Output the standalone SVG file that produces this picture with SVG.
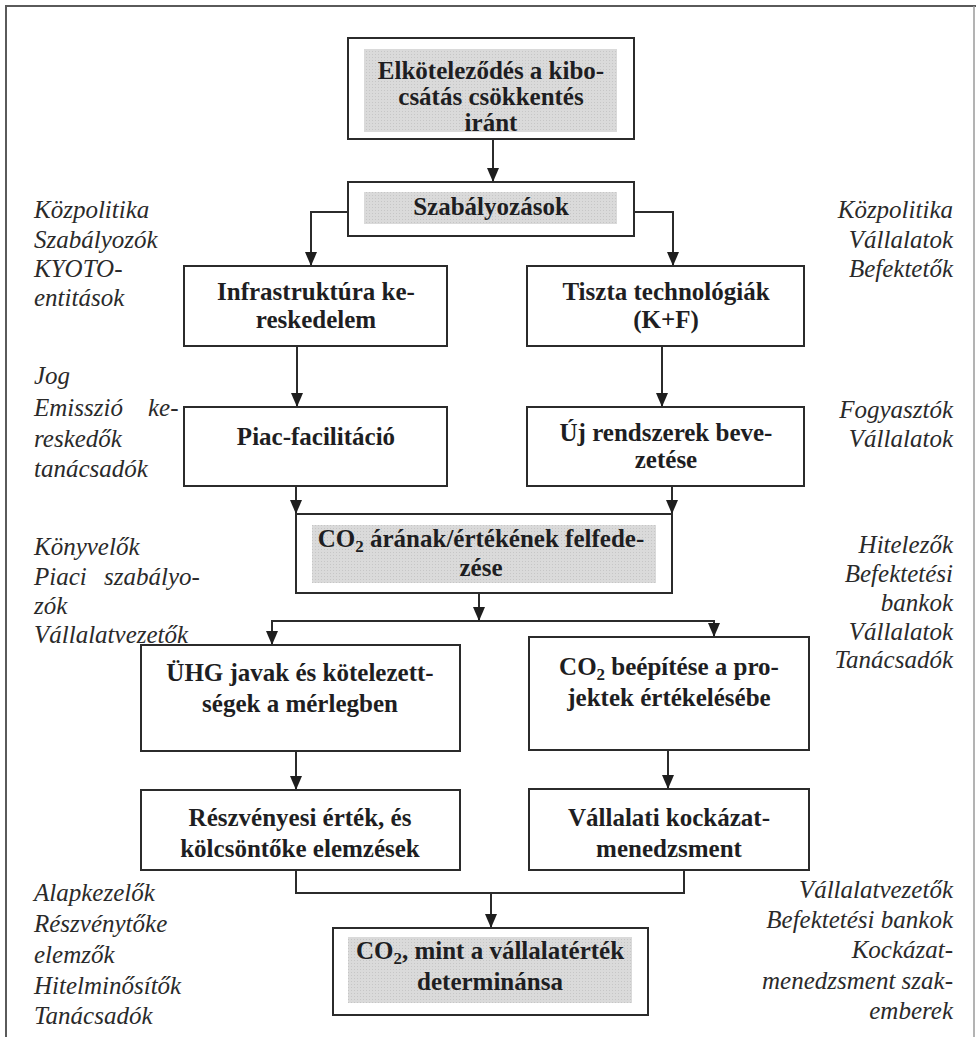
<svg xmlns="http://www.w3.org/2000/svg" width="976" height="1037" viewBox="0 0 976 1037">
<defs>
<style>
.box{fill:#fff;stroke:#2b2b2b;stroke-width:2}
.shade{fill:url(#dots);stroke:none}
.bt{font-family:"Liberation Serif","Times New Roman",serif;font-weight:bold;font-size:25px;fill:#1e1e22;text-anchor:middle}
.lb{font-family:"Liberation Serif","Times New Roman",serif;font-style:italic;font-size:25px;fill:#2a2a2a}
.rt{text-anchor:end}
.con{fill:none;stroke:#2b2b2b;stroke-width:2}
.arr{marker-end:url(#ah)}
</style>
<pattern id="dots" width="3" height="3" patternUnits="userSpaceOnUse">
<rect width="3" height="3" fill="#dadada"/>
<rect width="1" height="1" fill="#c6c6c6"/>
</pattern>
<marker id="ah" viewBox="0 0 14 12" refX="14" refY="6" markerWidth="14" markerHeight="12" markerUnits="userSpaceOnUse" orient="auto">
<path d="M0,0 L14,6 L0,12 z" fill="#1e1e1e"/>
</marker>
</defs>
<rect width="976" height="1037" fill="#fff"/>
<path d="M6,1037 L6,6 L976,6" fill="none" stroke="#5a5a5a" stroke-width="2"/>
<path d="M974,6 L974,1037" fill="none" stroke="#9a9a9a" stroke-width="1.5"/>

<g id="connectors">
<line class="con arr" x1="493" y1="139" x2="493" y2="182"/>
<path class="con arr" d="M348,212 L311,212 L311,266"/>
<path class="con arr" d="M634,212 L673,212 L673,266"/>
<line class="con arr" x1="297" y1="346" x2="297" y2="407"/>
<line class="con arr" x1="662" y1="346" x2="662" y2="407"/>
<line class="con arr" x1="296" y1="486" x2="296" y2="514"/>
<line class="con arr" x1="672" y1="486" x2="672" y2="514"/>
<line class="con arr" x1="479" y1="593" x2="479" y2="621"/>
<path class="con arr" d="M479,621 L272,621 L272,645"/>
<path class="con arr" d="M479,621 L714,621 L714,637"/>
<line class="con arr" x1="296" y1="751" x2="296" y2="790"/>
<line class="con arr" x1="668" y1="750" x2="668" y2="789"/>
<path class="con" d="M296,870 L296,893 L684,893 L684,870"/>
<line class="con arr" x1="491" y1="893" x2="491" y2="928"/>
</g>

<g id="n1">
<rect class="box" x="348" y="38" width="286" height="101"/>
<rect class="shade" x="364" y="49" width="253" height="83"/>
<text class="bt" x="491" y="79">Elkötelező­dés a kibo-</text>
<text class="bt" x="491" y="105">csátás csökkentés</text>
<text class="bt" x="491" y="131">iránt</text>
</g>

<g id="n2">
<rect class="box" x="348" y="182" width="286" height="54"/>
<rect class="shade" x="364" y="192" width="253" height="32"/>
<text class="bt" x="491" y="215">Szabályozások</text>
</g>

<g id="n3">
<rect class="box" x="184" y="266" width="263" height="80"/>
<text class="bt" x="316" y="300">Infrastruktúra ke-</text>
<text class="bt" x="316" y="328">reskedelem</text>
</g>

<g id="n4">
<rect class="box" x="527" y="266" width="277" height="80"/>
<text class="bt" x="666" y="300">Tiszta technológiák</text>
<text class="bt" x="666" y="328">(K+F)</text>
</g>

<g id="n5">
<rect class="box" x="184" y="407" width="263" height="79"/>
<text class="bt" x="316" y="445">Piac-facilitáció</text>
</g>

<g id="n6">
<rect class="box" x="527" y="407" width="277" height="79"/>
<text class="bt" x="666" y="441">Új rendszerek beve-</text>
<text class="bt" x="666" y="468">zetése</text>
</g>

<g id="n7">
<rect class="box" x="296" y="514" width="376" height="79"/>
<rect class="shade" x="312" y="525" width="344" height="58"/>
<text class="bt" x="481" y="547">CO<tspan font-size="17" dy="5">2</tspan><tspan dy="-5"> árának/értékének felfede-</tspan></text>
<text class="bt" x="481" y="576">zése</text>
</g>

<g id="n8">
<rect class="box" x="141" y="645" width="319" height="106"/>
<text class="bt" x="300" y="681">ÜHG javak és kötelezett-</text>
<text class="bt" x="300" y="712">ségek a mérlegben</text>
</g>

<g id="n9">
<rect class="box" x="529" y="637" width="280" height="113"/>
<text class="bt" x="669" y="675">CO<tspan font-size="17" dy="5">2</tspan><tspan dy="-5"> beépítése a pro-</tspan></text>
<text class="bt" x="669" y="706">jektek értékelésébe</text>
</g>

<g id="n10">
<rect class="box" x="141" y="790" width="319" height="80"/>
<text class="bt" x="300" y="826">Részvényesi érték, és</text>
<text class="bt" x="300" y="857">kölcsöntőke elemzések</text>
</g>

<g id="n11">
<rect class="box" x="529" y="789" width="280" height="81"/>
<text class="bt" x="669" y="826">Vállalati kockázat-</text>
<text class="bt" x="669" y="857">menedzsment</text>
</g>

<g id="n12">
<rect class="box" x="333" y="928" width="315" height="87"/>
<rect class="shade" x="348" y="937" width="284" height="66"/>
<text class="bt" x="490" y="959">CO<tspan font-size="17" dy="5">2</tspan><tspan dy="-5">, mint a vállalatérték</tspan></text>
<text class="bt" x="490" y="990">determinánsa</text>
</g>

<g id="labels-left">
<text class="lb" x="34" y="218">Közpolitika</text>
<text class="lb" x="34" y="248">Szabályozók</text>
<text class="lb" x="34" y="277">KYOTO-</text>
<text class="lb" x="34" y="306">entitások</text>
<text class="lb" x="34" y="384">Jog</text>
<text class="lb" y="416"><tspan x="34">Emisszió</tspan><tspan x="148">ke-</tspan></text>
<text class="lb" x="34" y="447">reskedők</text>
<text class="lb" x="34" y="477">tanácsadók</text>
<text class="lb" x="34" y="555">Könyvelők</text>
<text class="lb" y="585"><tspan x="34">Piaci</tspan><tspan x="104">szabályo-</tspan></text>
<text class="lb" x="34" y="614">zók</text>
<text class="lb" x="34" y="643">Vállalatvezetők</text>
<text class="lb" x="34" y="901">Alapkezelők</text>
<text class="lb" x="34" y="932">Részvénytőke</text>
<text class="lb" x="34" y="963">elemzők</text>
<text class="lb" x="34" y="994">Hitelminősítők</text>
<text class="lb" x="34" y="1024">Tanácsadók</text>
</g>

<g id="labels-right">
<text class="lb rt" x="953" y="218">Közpolitika</text>
<text class="lb rt" x="953" y="248">Vállalatok</text>
<text class="lb rt" x="953" y="277">Befektetők</text>
<text class="lb rt" x="953" y="418">Fogyasztók</text>
<text class="lb rt" x="953" y="447">Vállalatok</text>
<text class="lb rt" x="953" y="553">Hitelezők</text>
<text class="lb rt" x="953" y="582">Befektetési</text>
<text class="lb rt" x="953" y="611">bankok</text>
<text class="lb rt" x="953" y="640">Vállalatok</text>
<text class="lb rt" x="953" y="668">Tanácsadók</text>
<text class="lb rt" x="953" y="898">Vállalatvezetők</text>
<text class="lb rt" x="953" y="928">Befektetési bankok</text>
<text class="lb rt" x="953" y="958">Kockázat-</text>
<text class="lb rt" x="953" y="989">menedzsment szak-</text>
<text class="lb rt" x="953" y="1019">emberek</text>
</g>
</svg>
